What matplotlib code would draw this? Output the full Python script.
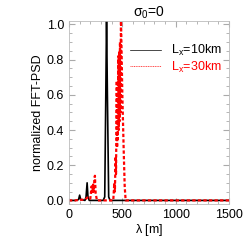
import matplotlib
matplotlib.use("Agg")
import matplotlib.pyplot as plt

# wavelength [m] and normalized PSD
lam_10 = [0, 60, 90, 100, 110, 150, 160, 170, 178, 190, 320, 335, 345, 352, 360, 372, 385, 1500]
psd_10 = [0, 0, 0.005, 0.03, 0.005, 0, 0.02, 0.1, 0.02, 0, 0, 0.02, 0.6, 1.05, 0.6, 0.02, 0, 0]

lam_30 = [0, 60, 100, 150, 180, 200, 212, 220, 226, 232, 238, 243, 250, 262, 400,
          415, 425, 430, 437, 441, 445, 448, 451, 455, 458, 462, 466, 470, 474, 478,
          482, 487, 500, 512, 522, 531, 1500]
psd_30 = [0, 0, 0.003, 0.005, 0.02, 0.01, 0.08, 0.04, 0.09, 0.05, 0.12, 0.14, 0.04, 0, 0,
          0, 0.1, 0.05, 0.25, 0.15, 0.5, 0.68, 0.3, 0.6, 0.35, 0.82, 0.4, 0.85, 0.45, 0.9,
          0.5, 1.05, 0.6, 0.3, 0.08, 0, 0]

plt.rcParams['font.family'] = ['Liberation Sans', 'DejaVu Sans']
plt.rcParams['mathtext.default'] = 'regular'

fig = plt.figure(figsize=(2.49, 2.49), dpi=100)
ax = fig.add_axes([0.277, 0.181, 0.643, 0.735])

ax.plot(lam_10, psd_10, color='black', lw=1.2, label=r'L$_x$=10km')
ax.plot(lam_30, psd_30, color='red', lw=1.6, ls=(0, (1.5, 1)), label=r'L$_x$=30km')

ax.set_xlim(0, 1500)
ax.set_ylim(-0.02, 1.02)
ax.set_xticks([0, 500, 1000, 1500])
ax.set_yticks([0.0, 0.2, 0.4, 0.6, 0.8, 1.0])
ax.set_yticklabels(['0.0', '0.2', '0.4', '0.6', '0.8', '1.0'])
ax.minorticks_on()
ax.tick_params(which='both', direction='in', top=True, right=True, color='#aaaaaa', labelsize=9)
ax.tick_params(which='major', length=4)
ax.tick_params(which='minor', length=2)
for s in ax.spines.values():
    s.set_color('#bbbbbb')
    s.set_linewidth(0.6)

ax.set_xlabel(r'$\lambda$ [m]', fontsize=9, labelpad=1)
ax.set_ylabel('normalized FFT-PSD', fontsize=9, labelpad=2)
ax.set_title(r'$\sigma_0$=0', fontsize=10, pad=3)

leg = ax.legend(loc='upper right', frameon=False, fontsize=9, handlelength=2.5,
                borderaxespad=0.2, labelspacing=0.1, bbox_to_anchor=(1.0, 0.92))
for txt, c in zip(leg.get_texts(), ['black', 'red']):
    txt.set_color(c)
for h in leg.get_lines():
    h.set_linewidth(0.5)

fig.savefig('out.png', dpi=100)
